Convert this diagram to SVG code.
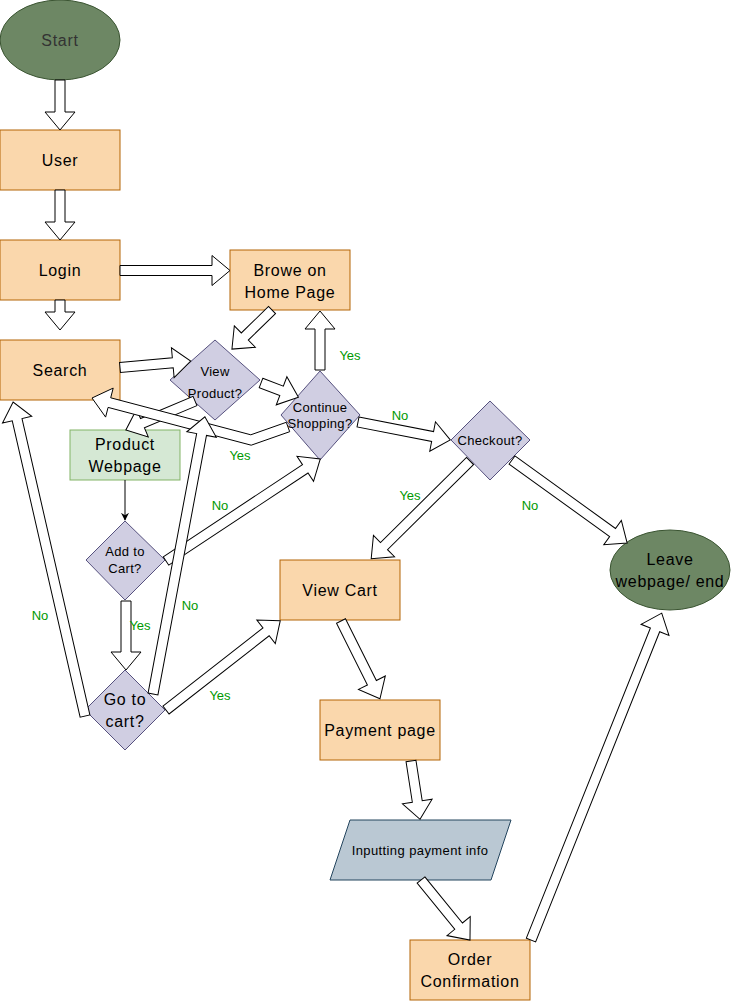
<svg xmlns="http://www.w3.org/2000/svg" width="731" height="1001" viewBox="0 0 731 1001">
<defs>
<style>
.box{fill:#fad7ac;stroke:#b46504;stroke-width:1}
.dia{fill:#d0cee2;stroke:#56517e;stroke-width:1}
.grn{fill:#d5e8d4;stroke:#82b366;stroke-width:1}
.ell{fill:#6d8764;stroke:#3a5431;stroke-width:1}
.par{fill:#bac8d3;stroke:#23445d;stroke-width:1}
text{font-family:"Liberation Sans",Arial,Helvetica,sans-serif;text-anchor:middle;fill:#000}
.t16{font-size:16px;letter-spacing:0.7px}
.t13{font-size:13px;letter-spacing:0.3px}
.lbl{font-size:13px;fill:#009900}
.fa{fill:#fff;stroke:#000;stroke-width:1;stroke-linejoin:miter}
.thin{fill:none;stroke:#000;stroke-width:1}
</style>
<marker id="classic" viewBox="0 0 10 10" refX="9" refY="5" markerWidth="8" markerHeight="8" orient="auto" markerUnits="userSpaceOnUse">
<path d="M0,0 L10,5 L0,10 L3,5 Z" fill="#000"/>
</marker>
</defs>
<rect width="731" height="1001" fill="#fff"/>

<g id="start"><ellipse class="ell" cx="60" cy="40" rx="60" ry="40"/><text class="t16" x="60" y="46" style="fill:#333">Start</text></g>
<g id="user"><rect class="box" x="0" y="130" width="120" height="60"/><text class="t16" x="60" y="166">User</text></g>
<g id="login"><rect class="box" x="0" y="240" width="120" height="60"/><text class="t16" x="60" y="276">Login</text></g>
<g id="browse"><rect class="box" x="230" y="250" width="120" height="60"/><text class="t16" x="290" y="276">Browe on</text><text class="t16" x="290" y="298">Home Page</text></g>
<g id="search"><rect class="box" x="0" y="340" width="120" height="60"/><text class="t16" x="60" y="376">Search</text></g>
<g id="viewproduct"><polygon class="dia" points="215,340 260,380 215,420 170,380"/><text class="t13" x="215" y="376">View</text><text class="t13" x="215" y="398">Product?</text></g>
<g id="continue"><polygon class="dia" points="320,371 360,415 320,460 281,415"/><text class="t13" x="320" y="411.5">Continue</text><text class="t13" x="320" y="428">Shopping?</text></g>
<g id="checkout"><polygon class="dia" points="490,401 530,440 490,480 451,440"/><text class="t13" x="490" y="444.5">Checkout?</text></g>
<g id="productweb"><rect class="grn" x="70" y="430" width="110" height="50"/><text class="t16" x="125" y="450">Product</text><text class="t16" x="125" y="472">Webpage</text></g>
<g id="addcart"><polygon class="dia" points="125,521 165,560 125,600 86,560"/><text class="t13" x="125" y="556">Add to</text><text class="t13" x="125" y="573">Cart?</text></g>
<g id="gotocart"><polygon class="dia" points="125,670 165,710 125,750 85,710"/><text class="t16" x="125" y="705">Go to</text><text class="t16" x="125" y="727">cart?</text></g>
<g id="viewcart"><rect class="box" x="280" y="560" width="120" height="60"/><text class="t16" x="340" y="596">View Cart</text></g>
<g id="leave"><ellipse class="ell" cx="670" cy="570" rx="60" ry="40"/><text class="t16" x="670" y="565">Leave</text><text class="t16" x="670" y="587">webpage/ end</text></g>
<g id="payment"><rect class="box" x="320" y="700" width="120" height="60"/><text class="t16" x="380" y="736">Payment page</text></g>
<g id="inputting"><polygon class="par" points="350,820 511,820 491,880 330,880"/><text class="t13" x="420" y="854.5" style="letter-spacing:0.4px">Inputting payment info</text></g>
<g id="order"><rect class="box" x="410" y="940" width="120" height="60"/><text class="t16" x="470" y="965">Order</text><text class="t16" x="470" y="987">Confirmation</text></g>

<g id="connectors">
<path class="fa" transform="translate(60,80) rotate(90)" d="M0,-5H32V-15L50,0L32,15V5H0Z"/>
<path class="fa" transform="translate(60,190) rotate(90)" d="M0,-5H32V-15L50,0L32,15V5H0Z"/>
<path class="fa" transform="translate(120,270.5)" d="M0,-5H92V-15L110,0L92,15V5H0Z"/>
<path class="fa" transform="translate(60,300) rotate(90)" d="M0,-5H12V-15L30,0L12,15V5H0Z"/>
<path class="fa" transform="translate(272,310) rotate(135.7)" d="M0,-5H38V-15L56,0L38,15V5H0Z"/>
<path class="fa" transform="translate(120,367.5) rotate(-5.2)" d="M0,-5H53V-15L71,0L53,15V5H0Z"/>
<path class="fa" transform="translate(261,383) rotate(20.7)" d="M0,-5H22V-15L40,0L22,15V5H0Z"/>
<path class="fa" transform="translate(195,401) rotate(157.2)" d="M0,-5H57V-15L75,0L57,15V5H0Z"/>
<path class="fa" d="M286.3,422.3 L250.8,434.8 L110.7,397.8 L113.2,388.1 L92,398 L105.6,417.1 L108.1,407.4 L251.2,445.2 L289.7,431.7 Z"/>
<path class="fa" transform="translate(320,370) rotate(-90)" d="M0,-5H41V-15L59,0L41,15V5H0Z"/>
<path class="fa" transform="translate(358,422) rotate(11)" d="M0,-5H76V-15L94,0L76,15V5H0Z"/>
<path class="fa" transform="translate(470,461) rotate(135.3)" d="M0,-5H121V-15L139,0L121,15V5H0Z"/>
<path class="fa" transform="translate(512,460) rotate(35.8)" d="M0,-5H124V-15L142,0L124,15V5H0Z"/>
<line class="thin" x1="125" y1="480" x2="125" y2="520" marker-end="url(#classic)"/>
<path class="fa" transform="translate(166,561) rotate(-33.5)" d="M0,-5H167V-15L185,0L167,15V5H0Z"/>
<path class="fa" transform="translate(126,601) rotate(90)" d="M0,-5H51V-15L69,0L51,15V5H0Z"/>
<path class="fa" transform="translate(85,716) rotate(-102.9)" d="M0,-5H304V-15L322,0L304,15V5H0Z"/>
<path class="fa" transform="translate(153,694) rotate(-79.4)" d="M0,-5H264V-15L282,0L264,15V5H0Z"/>
<path class="fa" transform="translate(166,710) rotate(-38)" d="M0,-5H127V-15L145,0L127,15V5H0Z"/>
<path class="fa" transform="translate(341,621) rotate(63.4)" d="M0,-5H69V-15L87,0L69,15V5H0Z"/>
<path class="fa" transform="translate(411,761) rotate(81.2)" d="M0,-5H41V-15L59,0L41,15V5H0Z"/>
<path class="fa" transform="translate(421,880) rotate(50.8)" d="M0,-5H59.5V-15L77.5,0L59.5,15V5H0Z"/>
<path class="fa" transform="translate(531,940) rotate(-68.2)" d="M0,-5H334V-15L352,0L334,15V5H0Z"/>
</g>

<g id="labels">
<text class="lbl" x="350" y="359.5">Yes</text>
<text class="lbl" x="240" y="459.5">Yes</text>
<text class="lbl" x="400" y="419.5">No</text>
<text class="lbl" x="410" y="499.5">Yes</text>
<text class="lbl" x="530" y="509.5">No</text>
<text class="lbl" x="220" y="509.5">No</text>
<text class="lbl" x="140" y="629.5">Yes</text>
<text class="lbl" x="40" y="619.5">No</text>
<text class="lbl" x="190" y="609.5">No</text>
<text class="lbl" x="220" y="699.5">Yes</text>
</g>
</svg>
